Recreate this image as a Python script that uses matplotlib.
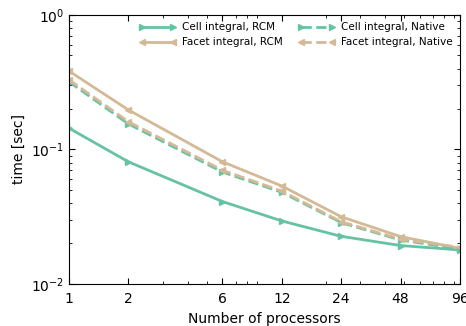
import numpy as np
import matplotlib
matplotlib.use('Agg')
from matplotlib import pyplot as plt
from matplotlib.ticker import FixedLocator, FixedFormatter, NullFormatter

procs = [1, 2, 6, 12, 24, 48, 96]

cell_rcm = [0.144, 0.081, 0.041, 0.0294, 0.0226, 0.0193, 0.0179]
facet_rcm = [0.383, 0.197, 0.081, 0.0535, 0.0316, 0.0225, 0.0184]
cell_native = [0.319, 0.155, 0.068, 0.048, 0.0286, 0.0212, 0.0182]
facet_native = [0.33, 0.161, 0.070, 0.049, 0.029, 0.0215, 0.0187]

green = '#66c2a5'
tan = '#d3b995'

fig = plt.figure(figsize=(4.66, 3.26), dpi=100)
ax = fig.add_axes([0.148, 0.129, 0.839, 0.825])

ax.plot(procs, cell_rcm, '->', color=green, lw=2, ms=5, mec=green, label='Cell integral, RCM')
ax.plot(procs, facet_rcm, '-<', color=tan, lw=2, ms=5, mec=tan, label='Facet integral, RCM')
ax.plot(procs, cell_native, '-->', color=green, lw=2, ms=5, mec=green, label='Cell integral, Native')
ax.plot(procs, facet_native, '--<', color=tan, lw=2, ms=5, mec=tan, label='Facet integral, Native')

ax.set_xscale('log')
ax.set_yscale('log')
ax.set_xlim(1, 96)
ax.set_ylim(0.01, 1)

ax.xaxis.set_major_locator(FixedLocator(procs))
ax.xaxis.set_major_formatter(FixedFormatter([str(p) for p in procs]))
ax.xaxis.set_minor_formatter(NullFormatter())

ax.tick_params(which='both', direction='in', top=True, right=True, labelsize=10)
ax.tick_params(which='major', length=4)
ax.tick_params(which='minor', length=2)
ax.tick_params(axis='x', pad=6)

ax.set_xlabel('Number of processors', fontsize=10)
ax.set_ylabel('time [sec]', fontsize=10)

ax.legend(loc='upper right', ncol=2, frameon=False, fontsize=7.5, handlelength=3.5,
          numpoints=2, columnspacing=1.5, handletextpad=0.6, borderaxespad=0.3)

fig.savefig('out.png', dpi=100)
